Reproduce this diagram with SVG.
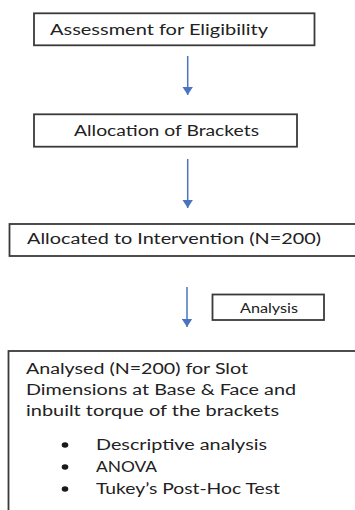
<svg xmlns="http://www.w3.org/2000/svg" width="355" height="510" viewBox="0 0 355 510">
<style>
.box{fill:#ffffff;stroke:#3a3a3a;stroke-width:1.8}
.t{font-family:Lato,"Open Sans","Liberation Sans",sans-serif;font-size:15.5px;fill:#222222}
.s{font-family:Lato,"Open Sans","Liberation Sans",sans-serif;font-size:12.5px;fill:#222222}
.conn{stroke:#4a74c2;stroke-width:1.5;fill:none}
.dot{fill:#1a1a1a}
</style>
<defs>
<marker id="ah" viewBox="0 0 8.5 11" refX="8.5" refY="5.5" markerWidth="8.5" markerHeight="11" markerUnits="userSpaceOnUse" orient="auto">
<path d="M0,0 L8.5,5.5 L0,11 z" fill="#4a74c2"/>
</marker>
</defs>
<rect width="355" height="510" fill="#ffffff"/>
<g id="connectors">
<line class="conn" x1="187.7" y1="56" x2="187.7" y2="95" marker-end="url(#ah)"/>
<line class="conn" x1="187.7" y1="159" x2="187.7" y2="208" marker-end="url(#ah)"/>
<line class="conn" x1="187" y1="287" x2="187" y2="327" marker-end="url(#ah)"/>
</g>
<g id="node-assessment">
<rect class="box" x="34" y="13.3" width="280.5" height="32"/>
<text class="t" x="50" y="35" textLength="218" lengthAdjust="spacingAndGlyphs">Assessment for Eligibility</text>
</g>
<g id="node-allocation">
<rect class="box" x="34" y="114.3" width="263" height="32.4"/>
<text class="t" x="74" y="136" textLength="185" lengthAdjust="spacingAndGlyphs">Allocation of Brackets</text>
</g>
<g id="node-intervention">
<rect class="box" x="9.5" y="224" width="360" height="32"/>
<text class="t" x="27" y="243.5" textLength="294" lengthAdjust="spacingAndGlyphs">Allocated to Intervention (N=200)</text>
</g>
<g id="node-analysis-label">
<rect class="box" x="212.5" y="294.5" width="111.5" height="25.5"/>
<text class="s" x="240" y="313" textLength="58" lengthAdjust="spacingAndGlyphs">Analysis</text>
</g>
<g id="node-analysed">
<rect class="box" x="8.5" y="351" width="360" height="200"/>
<text class="t" x="26" y="374" textLength="222" lengthAdjust="spacingAndGlyphs">Analysed (N=200) for Slot</text>
<text class="t" x="26" y="395" textLength="270" lengthAdjust="spacingAndGlyphs">Dimensions at Base &amp; Face and</text>
<text class="t" x="26" y="416" textLength="253" lengthAdjust="spacingAndGlyphs">inbuilt torque of the brackets</text>
<ellipse class="dot" cx="65" cy="445" rx="3.3" ry="2.8"/>
<ellipse class="dot" cx="65" cy="467" rx="3.3" ry="2.8"/>
<ellipse class="dot" cx="65" cy="489" rx="3.3" ry="2.8"/>
<text class="t" x="96" y="450" textLength="171" lengthAdjust="spacingAndGlyphs">Descriptive analysis</text>
<text class="t" x="96" y="472" textLength="61" lengthAdjust="spacingAndGlyphs">ANOVA</text>
<text class="t" x="96" y="494" textLength="184" lengthAdjust="spacingAndGlyphs">Tukey’s Post-Hoc Test</text>
</g>
</svg>
